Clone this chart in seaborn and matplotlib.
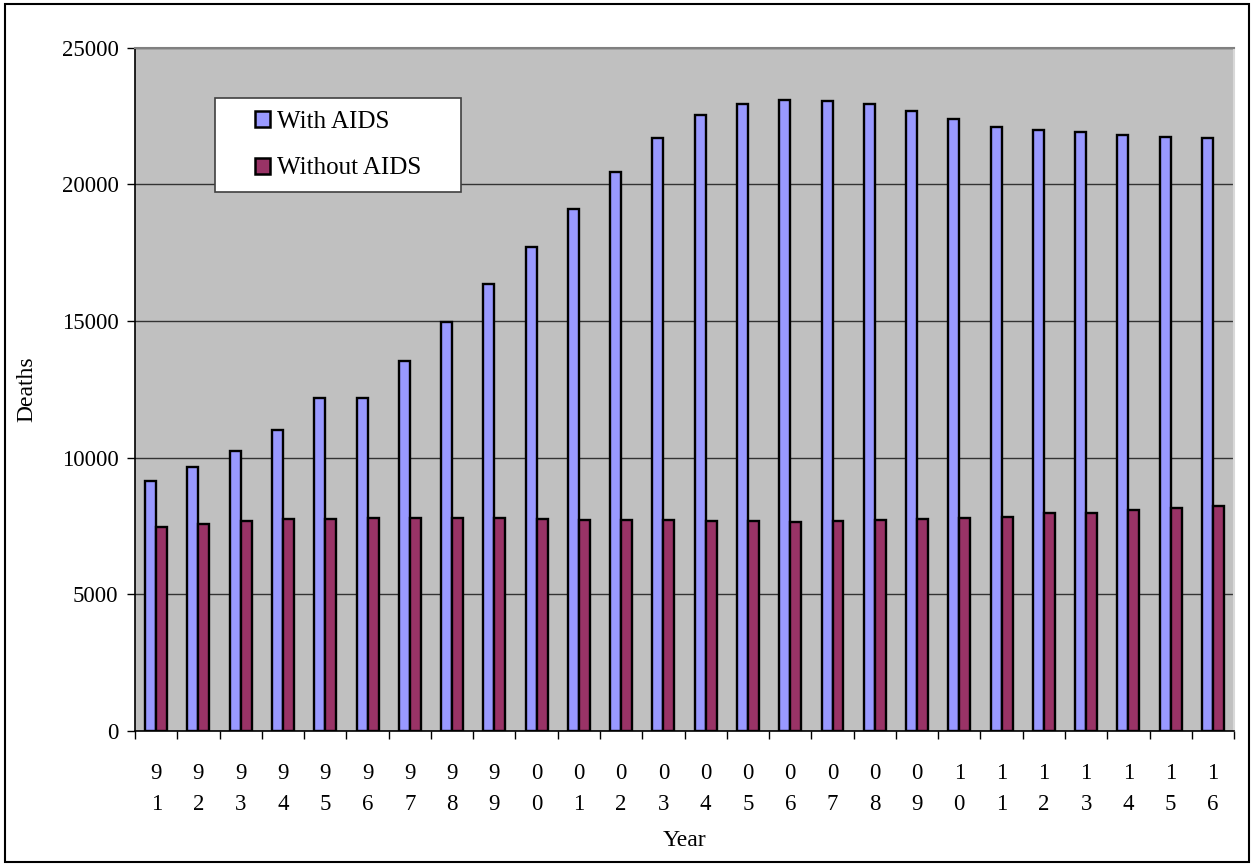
import matplotlib
matplotlib.use("Agg")
import matplotlib.pyplot as plt
from matplotlib.patches import Rectangle
import pandas as pd
import seaborn as sns

# Year codes shown as two stacked digits under each group
years = ["91", "92", "93", "94", "95", "96", "97", "98", "99", "00", "01", "02", "03",
         "04", "05", "06", "07", "08", "09", "10", "11", "12", "13", "14", "15", "16"]

with_aids = [9150, 9650, 10250, 11000, 12200, 12200, 13550, 14950, 16350, 17700,
             19100, 20450, 21700, 22550, 22950, 23100, 23050, 22950, 22700, 22400,
             22100, 22000, 21900, 21800, 21750, 21700]

without_aids = [7475, 7575, 7685, 7745, 7755, 7780, 7805, 7795, 7780, 7755,
                7730, 7710, 7710, 7695, 7685, 7660, 7685, 7730, 7770, 7805,
                7840, 7990, 7990, 8085, 8170, 8245]

series_names = ["With AIDS", "Without AIDS"]
series_colors = ["#9999FF", "#993366"]

df = pd.DataFrame({
    "Year": years * 2,
    "Deaths": with_aids + without_aids,
    "Series": [series_names[0]] * len(years) + [series_names[1]] * len(years),
})

sns.set_theme(style="white")
plt.rcParams["font.family"] = ["Liberation Serif", "DejaVu Serif"]
plt.rcParams["text.color"] = "black"
plt.rcParams["axes.labelcolor"] = "black"
plt.rcParams["xtick.color"] = "black"
plt.rcParams["ytick.color"] = "black"

fig = plt.figure(figsize=(12.54, 8.66), dpi=100)
ax = fig.add_axes([0.1077, 0.1559, 0.8764, 0.7890])

sns.barplot(data=df, x="Year", y="Deaths", hue="Series", order=years,
            hue_order=series_names, palette=series_colors, width=0.52,
            edgecolor="black", linewidth=1.7, saturation=1, ax=ax, zorder=3)

ax.set_facecolor("#C0C0C0")
ax.set_ylim(0, 25000)
ax.set_xlim(-0.5, len(years) - 0.5)
ax.set_yticks(range(0, 25001, 5000))
ax.set_yticklabels([str(v) for v in range(0, 25001, 5000)], fontsize=16.5)
ax.yaxis.grid(True, color="#333333", linewidth=1.0, zorder=1)
ax.set_axisbelow(True)

# Category labels: stacked digits centred on each group, ticks on group boundaries
ax.set_xticks(range(len(years)))
ax.set_xticklabels([f"{y[0]}\n{y[1]}" for y in years], fontsize=16.5, linespacing=1.65)
ax.tick_params(axis="x", which="major", length=0, pad=23, bottom=True)
ax.set_xticks([i - 0.5 for i in range(len(years) + 1)], minor=True)
ax.tick_params(axis="x", which="minor", length=6, width=1, color="black",
               direction="out", bottom=True)
ax.tick_params(axis="y", length=6, width=1, color="black", direction="out", pad=6, left=True)

for side in ["left", "bottom"]:
    ax.spines[side].set_color("black")
    ax.spines[side].set_linewidth(1.2)
ax.spines["top"].set_color("#808080")
ax.spines["top"].set_linewidth(1.5)
ax.spines["right"].set_color("#D8D8D8")
ax.spines["right"].set_linewidth(1.5)

ax.set_ylabel("Deaths", fontsize=17)
ax.yaxis.set_label_coords(-0.089, 0.5)
ax.set_xlabel("Year", fontsize=17, va="center")
ax.xaxis.set_label_coords(0.5, -0.16)

# Legend: white framed box with the entries centred inside it
box_x0, box_y0, box_w, box_h = 215 / 1254, 1 - 192 / 866, 246 / 1254, 94 / 866
ax.add_patch(Rectangle((box_x0, box_y0), box_w, box_h, transform=fig.transFigure,
                       facecolor="white", edgecolor="#404040", linewidth=1.2,
                       zorder=4, clip_on=False))
handles, labels = ax.get_legend_handles_labels()
leg = ax.legend(handles, labels, loc="center",
                bbox_to_anchor=(box_x0 + box_w / 2, box_y0 + box_h / 2),
                bbox_transform=fig.transFigure, fontsize=18, frameon=False,
                handlelength=0.6, handleheight=0.6, handletextpad=0.3,
                labelspacing=1.0, borderpad=0, borderaxespad=0)
leg.set_zorder(5)
for h in leg.legend_handles:
    h.set_edgecolor("black")
    h.set_linewidth(1.8)

# Outer chart border
fig.patches.append(Rectangle((0.004, 0.005), 0.992, 0.990, transform=fig.transFigure,
                             fill=False, edgecolor="black", linewidth=1.5))

fig.savefig("out.png", dpi=100)
